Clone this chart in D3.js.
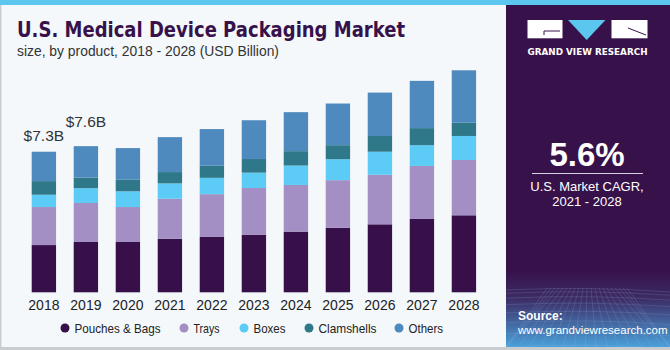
<!DOCTYPE html>
<html><head><meta charset="utf-8">
<script src="https://cdn.jsdelivr.net/npm/d3@7"></script>
<style>html,body{margin:0;padding:0;background:#fff;}svg{display:block;}</style>
</head><body>
<svg id="chart" width="670" height="350"></svg>
<script>
const years = ["2018","2019","2020","2021","2022","2023","2024","2025","2026","2027","2028"];
const seriesNames = ["Pouches & Bags","Trays","Boxes","Clamshells","Others"];
const pouches    = [2.46,2.62,2.62,2.79,2.90,3.00,3.16,3.36,3.54,3.82,4.01];
const trays      = [1.98,2.03,1.82,2.08,2.21,2.43,2.43,2.48,2.58,2.76,2.88];
const boxes      = [0.64,0.77,0.82,0.80,0.85,0.80,1.01,1.09,1.20,1.08,1.25];
const clamshells = [0.71,0.55,0.60,0.59,0.63,0.71,0.75,0.73,0.82,0.89,0.69];
const others     = [1.53,1.64,1.65,1.82,1.91,2.02,2.03,2.17,2.26,2.46,2.73];
const colors = ["#37104a","#a38fc4","#5ccbf5","#2f7889","#4e8abe"];
const annotations = [{year:"2018", text:"$7.3B"},{year:"2019", text:"$7.6B"}];

const svg = d3.select("#chart");
const W = 670, H = 350;
const FONT = "'Liberation Sans', Arial, sans-serif";

// background
svg.append("rect").attr("x",0).attr("y",0).attr("width",W).attr("height",H).attr("fill","#f4f8fb");
svg.append("rect").attr("x",0).attr("y",0).attr("width",1.5).attr("height",H).attr("fill","#c9cdd0");
svg.append("rect").attr("x",0).attr("y",347).attr("width",W).attr("height",3).attr("fill","#c9cdd0");
svg.append("rect").attr("x",0).attr("y",0).attr("width",W).attr("height",5).attr("fill","#5bc6ee");

// title
svg.append("text").attr("x",17).attr("y",37).attr("font-family","'DejaVu Sans', sans-serif").attr("font-weight","bold")
  .attr("font-size",21).attr("fill","#37124a").attr("textLength",388).attr("lengthAdjust","spacingAndGlyphs")
  .text("U.S. Medical Device Packaging Market");
svg.append("text").attr("x",17).attr("y",56).attr("font-family",FONT).attr("font-size",14.5).attr("fill","#333")
  .attr("textLength",262).attr("lengthAdjust","spacingAndGlyphs")
  .text("size, by product, 2018 - 2028 (USD Billion)");

// data stacking
const rows = years.map((y,i)=>({year:y, "Pouches & Bags":pouches[i], "Trays":trays[i], "Boxes":boxes[i], "Clamshells":clamshells[i], "Others":others[i]}));
const stack = d3.stack().keys(seriesNames)(rows);

const x = d3.scaleBand().domain(years).range([23.3, 484.5]).paddingInner(0.42).paddingOuter(0.2);
const y = d3.scaleLinear().domain([0, 11.56]).range([292.3, 70.3]);

const g = svg.append("g");
g.selectAll("g.layer").data(stack).join("g").attr("class","layer").attr("fill",(d,i)=>colors[i])
  .selectAll("rect").data(d=>d).join("rect")
  .attr("x",d=>x(d.data.year)).attr("width",x.bandwidth())
  .attr("y",d=>y(d[1])).attr("height",d=>y(d[0])-y(d[1]));

const totals = rows.map((r,i)=>pouches[i]+trays[i]+boxes[i]+clamshells[i]+others[i]);

// axis
const ax = svg.append("g").attr("transform","translate(0,292.3)").call(d3.axisBottom(x).tickSize(0).tickPadding(6));
ax.select(".domain").remove();
ax.selectAll("text").attr("font-family",FONT).attr("font-size",14).attr("fill","#222").attr("dy","0.85em");

// annotations
const annOffset = [11, 19];
svg.selectAll("text.ann").data(annotations).join("text").attr("class","ann")
  .attr("x",d=>x(d.year)+x.bandwidth()/2).attr("y",(d,i)=>y(totals[years.indexOf(d.year)])-annOffset[i])
  .attr("text-anchor","middle").attr("font-family",FONT).attr("font-size",15.5).attr("fill","#333")
  .text(d=>d.text);

// legend
const legendX = [65,184,244,309,399];
const legendW = [86,26,32,58,34.5];
const lg = svg.append("g");
seriesNames.forEach((n,i)=>{
  lg.append("circle").attr("cx",legendX[i]).attr("cy",328).attr("r",4.5).attr("fill",colors[i]);
  lg.append("text").attr("x",legendX[i]+9.5).attr("y",332.5).attr("font-family",FONT).attr("font-size",13).attr("fill","#222")
    .attr("textLength",legendW[i]).attr("lengthAdjust","spacingAndGlyphs").text(n);
});

// right panel
const defs = svg.append("defs");
const grad = defs.append("linearGradient").attr("id","pg").attr("x1",0).attr("y1",0).attr("x2",0).attr("y2",1);
grad.append("stop").attr("offset","0").attr("stop-color","#37124a");
grad.append("stop").attr("offset","0.78").attr("stop-color","#37124a");
grad.append("stop").attr("offset","0.86").attr("stop-color","#3d2d66");
grad.append("stop").attr("offset","1").attr("stop-color","#4aa0da");
svg.append("rect").attr("x",506).attr("y",5).attr("width",164).attr("height",342).attr("fill","url(#pg)");
// faint grid in lower panel
const grid = svg.append("g").attr("stroke","#9ab6e4").attr("stroke-opacity",0.3).attr("stroke-width",0.6).attr("fill","none");
for(let k=0;k<9;k++){ const yy=290+k*k*0.8+k*2.5; grid.append("path").attr("d",`M506,${yy} Q588,${yy-4} 670,${yy+2}`); }
for(let k=0;k<21;k++){ const xx=506+k*8; grid.append("line").attr("x1",588+(xx-588)*0.5).attr("y1",288).attr("x2",Math.min(670,Math.max(506,xx+(xx-588)*0.4))).attr("y2",347); }

// logo
svg.append("rect").attr("x",527.5).attr("y",20).attr("width",35).attr("height",18.3).attr("fill","#fff");
svg.append("path").attr("d","M544,31 H560 M544,31 V35").attr("stroke","#37124a").attr("stroke-width",1).attr("fill","none");
svg.append("path").attr("d","M568,20 L605.5,20 L586.7,40 Z").attr("fill","#5bc6ee");
svg.append("rect").attr("x",611.5).attr("y",20).attr("width",36).attr("height",18.3).attr("fill","#fff");
svg.append("path").attr("d","M628,28 L646,35").attr("stroke","#37124a").attr("stroke-width",1).attr("fill","none");
svg.append("text").attr("x",587.5).attr("y",55).attr("text-anchor","middle").attr("font-family","'DejaVu Sans', sans-serif")
  .attr("font-weight","bold").attr("font-size",9).attr("fill","#fff").attr("textLength",120).attr("lengthAdjust","spacingAndGlyphs")
  .text("GRAND VIEW RESEARCH");

svg.append("text").attr("x",587).attr("y",166).attr("text-anchor","middle").attr("font-family",FONT).attr("font-weight","bold")
  .attr("font-size",33).attr("fill","#fff").text("5.6%");
svg.append("line").attr("x1",532).attr("x2",643).attr("y1",173.5).attr("y2",173.5).attr("stroke","#d9d2e0").attr("stroke-width",1);
svg.append("text").attr("x",587).attr("y",191).attr("text-anchor","middle").attr("font-family",FONT).attr("font-size",13).attr("fill","#fff").text("U.S. Market CAGR,");
svg.append("text").attr("x",587).attr("y",206).attr("text-anchor","middle").attr("font-family",FONT).attr("font-size",13).attr("fill","#fff").text("2021 - 2028");

svg.append("text").attr("x",518).attr("y",320).attr("font-family",FONT).attr("font-weight","bold").attr("font-size",12).attr("fill","#fff").text("Source:");
svg.append("text").attr("x",518).attr("y",334).attr("font-family",FONT).attr("font-size",11.5).attr("fill","#fff")
  .text("www.grandviewresearch.com");
</script>
</body></html>
